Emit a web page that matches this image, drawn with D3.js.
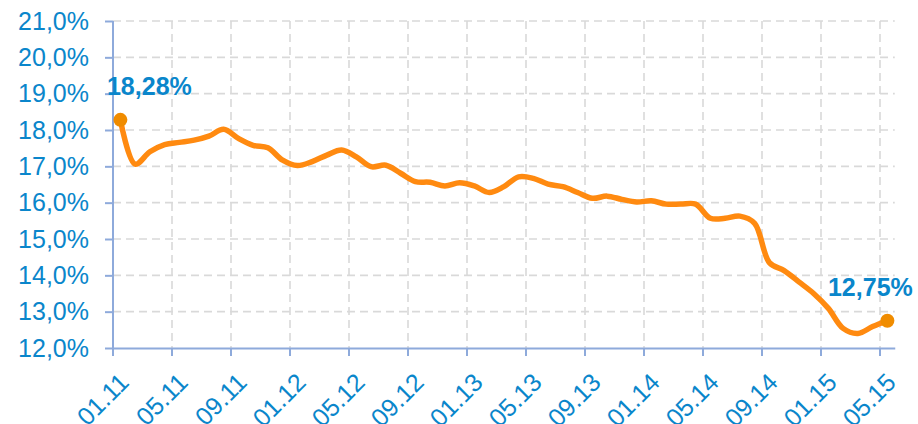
<!DOCTYPE html>
<html>
<head>
<meta charset="utf-8">
<script src="https://cdn.jsdelivr.net/npm/d3@7"></script>
<style>
  body { margin: 0; background: #fff; }
  svg { display: block; font-family: "Liberation Sans", Arial, sans-serif; }
  .grid line { stroke: #d9d9d9; stroke-width: 1.6; stroke-dasharray: 8,5; }
</style>
</head>
<body>
<script>
// monthly categories 01.11 .. 05.15
const months = [
  "01.11","02.11","03.11","04.11","05.11","06.11","07.11","08.11","09.11","10.11","11.11","12.11",
  "01.12","02.12","03.12","04.12","05.12","06.12","07.12","08.12","09.12","10.12","11.12","12.12",
  "01.13","02.13","03.13","04.13","05.13","06.13","07.13","08.13","09.13","10.13","11.13","12.13",
  "01.14","02.14","03.14","04.14","05.14","06.14","07.14","08.14","09.14","10.14","11.14","12.14",
  "01.15","02.15","03.15","04.15","05.15"
];

const rates = [
  18.28, 17.06, 17.40, 17.60, 17.66, 17.72, 17.83, 18.02, 17.77, 17.58, 17.51, 17.17,
  17.02, 17.13, 17.31, 17.45, 17.26, 16.99, 17.03, 16.81, 16.58, 16.56, 16.46, 16.55,
  16.46, 16.28, 16.44, 16.71, 16.67, 16.51, 16.44, 16.28, 16.12, 16.18, 16.09, 16.02,
  16.05, 15.96, 15.96, 15.96, 15.57, 15.57, 15.63, 15.43, 14.35, 14.13, 13.82, 13.50,
  13.09, 12.54, 12.40, 12.59, 12.75
];

const yTicks = [12, 13, 14, 15, 16, 17, 18, 19, 20, 21];

const width = 918,
  height = 424;

const blue = "#0a86cb",
  axisColor = "#8eaadb";

const locale = d3.formatLocale({ decimal: ",", thousands: " ", grouping: [3], currency: ["", ""] });
const fmtTick = locale.format(".1f"),
  fmtLabel = locale.format(".2f");

const x = d3.scaleBand().domain(months).range([113, 894.75]).padding(0);
const y = d3.scaleLinear().domain([12, 21]).range([348, 21]);

const svg = d3.select("body")
  .append("svg")
    .attr("width", width)
    .attr("height", height);

const labelMonths = months.filter((m, i) => i % 4 === 0);
const bw = x.bandwidth();

// gridlines
svg.append("g")
    .attr("class", "grid")
  .selectAll("line.h")
  .data(yTicks.slice(1))
  .join("line")
    .attr("x1", x.range()[0])
    .attr("x2", x.range()[1])
    .attr("y1", d => y(d))
    .attr("y2", d => y(d));

svg.select(".grid")
  .selectAll("line.v")
  .data(labelMonths.slice(1))
  .join("line")
    .attr("class", "v")
    .attr("x1", d => x(d))
    .attr("x2", d => x(d))
    .attr("y1", y(21))
    .attr("y2", y(12));

// y axis
const yAxis = svg.append("g")
    .attr("transform", "translate(" + x.range()[0] + ",0)")
    .call(d3.axisLeft(y).tickValues(yTicks).tickSize(8).tickPadding(16).tickFormat(d => fmtTick(d) + "%"));

yAxis.select(".domain").attr("stroke", axisColor).attr("stroke-width", 2).attr("d", "M0," + y(21) + "V" + y(12));
yAxis.selectAll(".tick line").attr("stroke", axisColor).attr("stroke-width", 2);
yAxis.selectAll(".tick text")
    .attr("fill", blue)
    .attr("font-size", 25)
    .attr("font-family", "Liberation Sans, Arial, sans-serif");

// x axis, ticks sit between categories
const xAxis = svg.append("g")
    .attr("transform", "translate(0," + y(12) + ")")
    .call(d3.axisBottom(x).tickValues(labelMonths).tickSize(8).tickSizeOuter(0));

xAxis.select(".domain").attr("stroke", axisColor).attr("stroke-width", 2);
xAxis.selectAll(".tick line")
    .attr("stroke", axisColor)
    .attr("stroke-width", 2)
    .attr("x1", -bw / 2)
    .attr("x2", -bw / 2);
xAxis.selectAll(".tick text")
    .attr("fill", blue)
    .attr("font-size", 25)
    .attr("font-family", "Liberation Sans, Arial, sans-serif")
    .attr("text-anchor", "end")
    .attr("dy", null)
    .attr("y", null)
    .attr("transform", "translate(10,36) rotate(-45)");

// smoothed line
const cx = (d, i) => x(months[i]) + bw / 2;

const line = d3.line()
    .x(cx)
    .y(d => y(d))
    .curve(d3.curveCatmullRom.alpha(0.5));

svg.append("path")
    .attr("d", line(rates))
    .attr("fill", "none")
    .attr("stroke", "#ff8a10")
    .attr("stroke-width", 5.5)
    .attr("stroke-linejoin", "round")
    .attr("stroke-linecap", "round");

// end points and their labels
const ends = [0, rates.length - 1];

svg.selectAll("circle.end")
  .data(ends)
  .join("circle")
    .attr("class", "end")
    .attr("cx", i => cx(rates[i], i))
    .attr("cy", i => y(rates[i]))
    .attr("r", 7)
    .attr("fill", "#f08c00");

svg.selectAll("text.end")
  .data(ends)
  .join("text")
    .attr("class", "end")
    .attr("x", i => cx(rates[i], i) + (i === 0 ? 29 : -17))
    .attr("y", i => y(rates[i]) - 25)
    .attr("text-anchor", "middle")
    .attr("fill", blue)
    .attr("font-size", 25)
    .attr("font-weight", "bold")
    .text(i => fmtLabel(rates[i]) + "%");
</script>
</body>
</html>
